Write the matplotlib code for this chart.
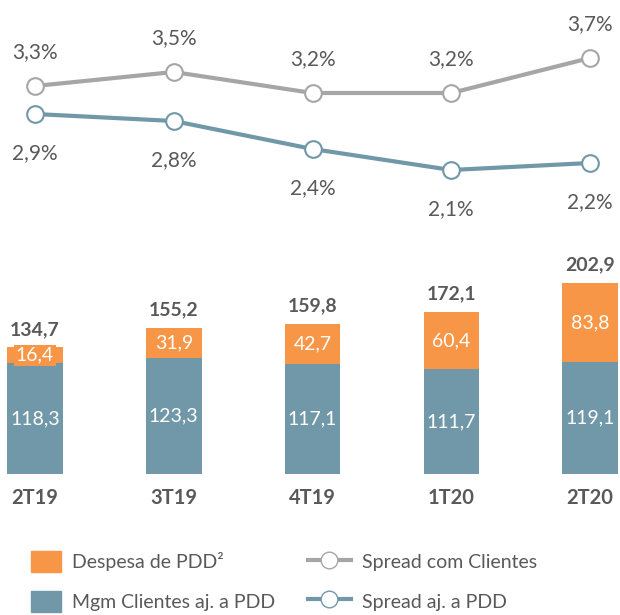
import matplotlib.pyplot as plt
from matplotlib.patches import Patch
from matplotlib.lines import Line2D
import numpy as np

plt.rcParams['font.family'] = ['Lato', 'DejaVu Sans']

quarters = ['2T19', '3T19', '4T19', '1T20', '2T20']
mgm_clientes = [118.3, 123.3, 117.1, 111.7, 119.1]
despesa_pdd = [16.4, 31.9, 42.7, 60.4, 83.8]
totals = [134.7, 155.2, 159.8, 172.1, 202.9]
spread_clientes = [3.3, 3.5, 3.2, 3.2, 3.7]
spread_aj = [2.9, 2.8, 2.4, 2.1, 2.2]

orange = '#F79646'
blue = '#7198A8'
grey = '#A6A6A6'
txt = '#595959'

fig = plt.figure(figsize=(6.2, 6.15), dpi=100)
W, H = 620, 615
step = 138.75
xlim = (-35 / step, 4 + 30 / step)
x = np.arange(len(quarters))

def fmt(v, suffix=''):
    return f'{v:.1f}{suffix}'.replace('.', ',')

# bars
ax = fig.add_axes([0, (H - 474) / H, 1, 216 / H])
ax.bar(x, mgm_clientes, width=0.4, color=blue)
ax.bar(x, despesa_pdd, width=0.4, bottom=mgm_clientes, color=orange)
ax.set_xlim(*xlim)
ax.set_ylim(0, 230)
ax.axis('off')

for i in x:
    ax.text(i, mgm_clientes[i] / 2, fmt(mgm_clientes[i]),
            ha='center', va='center', color='white', fontsize=14)
    bb = dict(boxstyle='square,pad=0.1', fc=orange, ec='none') if i == 0 else None
    ax.text(i, mgm_clientes[i] + despesa_pdd[i] / 2, fmt(despesa_pdd[i]),
            ha='center', va='center', color='white', fontsize=14, bbox=bb)
    ax.annotate(fmt(totals[i]), xy=(i, totals[i]), xytext=(0, 7),
                textcoords='offset points', ha='center', va='bottom',
                color=txt, fontsize=14, fontweight='bold')
    ax.annotate(quarters[i], xy=(i, 0), xytext=(0, -10), textcoords='offset points',
                ha='center', va='top', color=txt, fontsize=14.5, fontweight='bold')

# lines
ax2 = fig.add_axes([0, (H - 220) / H, 1, 190 / H])
ax2.plot(x, spread_clientes, color=grey, lw=3, marker='o', ms=12,
         mfc='white', mec=grey, mew=1.5, zorder=3)
ax2.plot(x, spread_aj, color=blue, lw=3, marker='o', ms=12,
         mfc='white', mec=blue, mew=1.5, zorder=3)
ax2.set_xlim(*xlim)
ax2.set_ylim(3.7 - 162 / 70, 3.7 + 28 / 70)
ax2.axis('off')

for i in x:
    ax2.annotate(fmt(spread_clientes[i], '%'), xy=(i, spread_clientes[i]),
                 xytext=(0, 17), textcoords='offset points', ha='center', va='bottom',
                 color=txt, fontsize=15)
    ax2.annotate(fmt(spread_aj[i], '%'), xy=(i, spread_aj[i]),
                 xytext=(0, -21), textcoords='offset points', ha='center', va='top',
                 color=txt, fontsize=15)

bar_handles = [
    Patch(color=orange, label='Despesa de PDD²'),
    Patch(color=blue, label='Mgm Clientes aj. a PDD'),
]
line_handles = [
    Line2D([], [], color=grey, lw=3, marker='o', ms=12, mfc='white', mec=grey,
           label='Spread com Clientes'),
    Line2D([], [], color=blue, lw=3, marker='o', ms=12, mfc='white', mec=blue,
           label='Spread aj. a PDD'),
]
common = dict(loc='upper left', frameon=False, fontsize=14, borderpad=0,
              borderaxespad=0, handleheight=1.3, labelspacing=0.95)
leg1 = fig.legend(handles=bar_handles, bbox_to_anchor=(31 / W, 1 - 551 / H),
                  handlelength=1.55, handletextpad=0.55, **common)
leg2 = fig.legend(handles=line_handles, bbox_to_anchor=(308 / W, 1 - 551 / H),
                  handlelength=2.2, handletextpad=0.6, **common)
for leg in (leg1, leg2):
    for t in leg.get_texts():
        t.set_color(txt)

fig.savefig('out.png', dpi=100)
